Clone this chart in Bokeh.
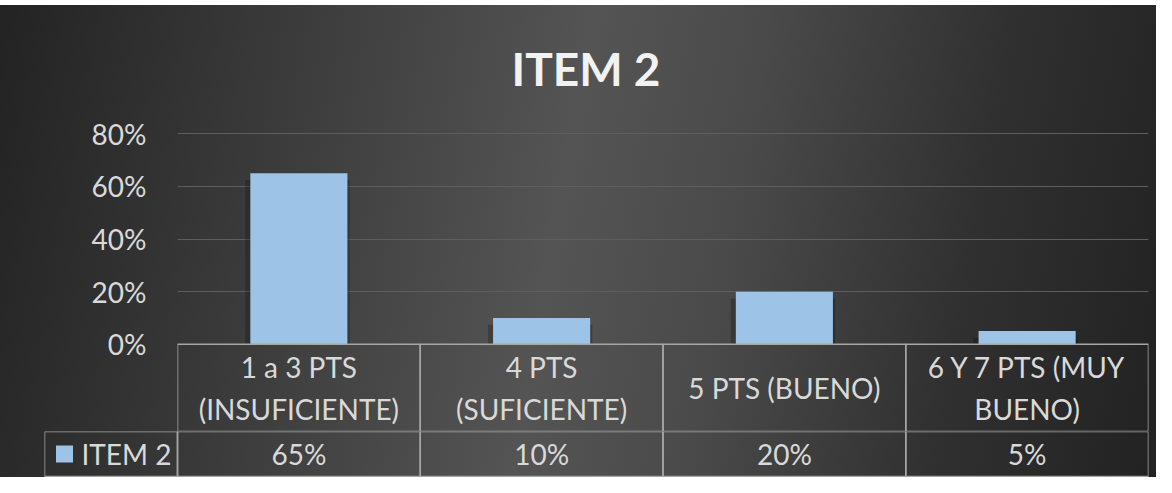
from bokeh.plotting import figure
from bokeh.models import (Range1d, FactorRange, NumeralTickFormatter, FixedTicker,
                          ColumnDataSource, Spacer)
from bokeh.layouts import column
from bokeh.transform import dodge
from bokeh.core.properties import value
from bokeh.embed import file_html
from bokeh.resources import INLINE

# ---------------- data ----------------
chart_title = "ITEM 2"
series_name = "ITEM 2"
categories = ["1 a 3 PTS (INSUFICIENTE)", "4 PTS (SUFICIENTE)",
              "5 PTS (BUENO)", "6 Y 7 PTS (MUY BUENO)"]
category_labels = ["1 a 3 PTS\n(INSUFICIENTE)", "4 PTS\n(SUFICIENTE)",
                   "5 PTS (BUENO)", "6 Y 7 PTS (MUY\nBUENO)"]
values = [0.65, 0.10, 0.20, 0.05]
y_ticks = [0.0, 0.2, 0.4, 0.6, 0.8]

# ---------------- style ----------------
FONT = "Lato"
TXT = "#d9d9d9"
BAR = "#9dc3e6"
GRID = "#5e5e5e"
TABLE_LINE = "#a6a6a6"
W = 1156
CAT_PX = 242.75      # pixels per category
PX_PER_UNIT = 264.0  # pixels per 100 %
HEAD_PX = 87.5       # height of the category row of the data table
ROW_PX = 46          # height of the value row

head_h = HEAD_PX / PX_PER_UNIT

src = ColumnDataSource(dict(cat=categories, val=values, lab=category_labels,
                            ymid=[-head_h / 2] * len(categories)))

# ---------------- bar chart (+ category row of the table) ----------------
p = figure(width=W, height=426,
           x_range=FactorRange(*categories, range_padding=0, factor_padding=0),
           y_range=Range1d(-head_h, 0.82),
           output_backend="svg", toolbar_location=None,
           min_border_left=177, min_border_right=8,
           min_border_top=122, min_border_bottom=0,
           background_fill_color=None, border_fill_color=None,
           outline_line_color=None)

p.title.text = chart_title
p.title.align = "left"
p.title.offset = 334
p.title.text_font = FONT
p.title.text_font_size = "46px"
p.title.text_font_style = "bold"
p.title.text_color = "#f2f2f2"
p.title.standoff = 66

p.xaxis.visible = False
p.xgrid.visible = False
p.ygrid.grid_line_color = GRID
p.ygrid.grid_line_width = 1.2

ya = p.yaxis[0]
ya.ticker = FixedTicker(ticks=y_ticks)
ya.formatter = NumeralTickFormatter(format="0%")
ya.axis_line_color = None
ya.major_tick_line_color = None
ya.minor_tick_line_color = None
ya.major_tick_out = 0
ya.major_label_standoff = 31
ya.major_label_text_font = FONT
ya.major_label_text_font_size = "28px"
ya.major_label_text_color = TXT

# soft shadow behind bars
p.vbar(x=dodge("cat", -0.006, range=p.x_range), top=dodge("val", -0.026),
       width=0.43, source=src, fill_color="black", fill_alpha=0.22,
       line_color=None)
p.vbar(x="cat", top="val", width=0.4, source=src,
       fill_color=BAR, line_color=None)

# category row of the data table
p.rect(x="cat", y="ymid", width=1, height=head_h, source=src,
       fill_color=None, line_color=TABLE_LINE, line_width=1.5)
p.text(x="cat", y="ymid", text="lab", source=src, text_align="center",
       text_baseline="middle", text_font=value(FONT), text_font_size="28px",
       text_color=TXT, text_line_height=1.25)

# ---------------- value row of the table ----------------
legend_w = 133 / CAT_PX          # legend column width in category units
t = figure(width=W, height=ROW_PX,
           x_range=Range1d(-legend_w, len(categories)),
           y_range=Range1d(-ROW_PX, 0),
           output_backend="svg", toolbar_location=None,
           min_border_left=44, min_border_right=8,
           min_border_top=0, min_border_bottom=0,
           background_fill_color=None, border_fill_color=None,
           outline_line_color=None)
t.axis.visible = False
t.grid.visible = False

for fig in (p, t):
    if "frame_align" in fig.properties():
        fig.frame_align = False

centers = [i + 0.5 for i in range(len(categories))]
row_mid = -(ROW_PX - 1) / 2
vals = ColumnDataSource(dict(x=centers, lab=[f"{v:.0%}" for v in values],
                             y=[row_mid] * len(categories)))

t.rect(x=[-legend_w / 2] + centers, y=[row_mid] * (len(categories) + 1),
       width=[legend_w] + [1] * len(categories), height=ROW_PX - 1,
       fill_color=None, line_color=TABLE_LINE, line_width=1.5)
t.text(x="x", y="y", text="lab", source=vals, text_align="center",
       text_baseline="middle", text_font=value(FONT), text_font_size="28px",
       text_color=TXT)

# legend key inside the table
t.scatter(x=[-legend_w + 20 / CAT_PX], y=[row_mid], marker="square",
          size=17, fill_color=BAR, line_color=None)
t.text(x=[-legend_w], y=[row_mid], text=[series_name], x_offset=37,
       text_align="left", text_baseline="middle", text_font=value(FONT),
       text_font_size="28px", text_color=TXT)

panel = column(p, t)
panel.styles = {"background": "linear-gradient(100deg, #232323 0%, #3c3c3c 25%, "
                              "#545454 48%, #4a4a4a 62%, #303030 82%, #222222 100%)"}

layout = column(Spacer(width=W, height=5), panel)

open("out.html", "w").write(file_html(layout, INLINE))
